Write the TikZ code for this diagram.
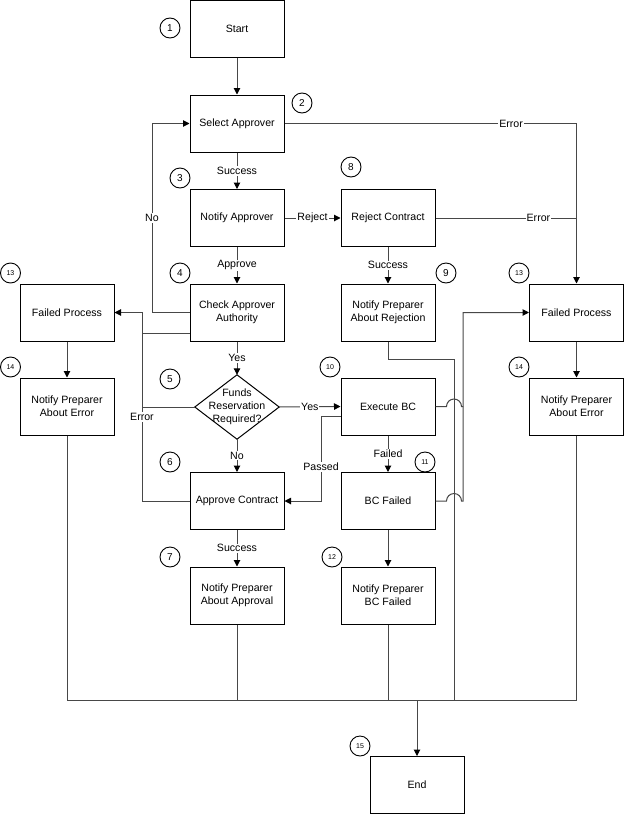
\documentclass[tikz,border=0pt]{standalone}
\usepackage{fontspec}
\setmainfont{Liberation Sans}
\usetikzlibrary{arrows.meta}
\begin{document}
\begin{tikzpicture}[x=1pt,y=-1pt,
 box/.style={draw=black, line width=1pt, minimum width=94pt, minimum height=57pt, align=center, font=\fontsize{10.6}{13}\selectfont, inner sep=0pt},
 num/.style={circle, draw=black, line width=0.9pt, minimum size=20pt, inner sep=0pt, font=\fontsize{10}{12}\selectfont},
 snum/.style={num, font=\fontsize{7}{8}\selectfont},
 conn/.style={draw=black!72, line width=1pt},
 arr/.style={conn, -{Triangle[length=6.5pt,width=6.5pt,color=black]}},
 lbl/.style={fill=white, inner sep=1pt, font=\fontsize{10.6}{12}\selectfont}
]
\useasboundingbox (0,0) rectangle (625,814);
% boxes
\node[box] (start) at (237,28.5) {Start};
\node[box] (sel) at (237,123.5) {Select Approver};
\node[box] (nap) at (237,218) {Notify Approver};
\node[box] (rej) at (388,218) {Reject Contract};
\node[box] (chk) at (237,312.5) {Check Approver\\Authority};
\node[box] (npr) at (388,312.5) {Notify Preparer\\About Rejection};
\node[box] (fpl) at (67,312.5) {Failed Process};
\node[box] (nel) at (67,406.5) {Notify Preparer\\About Error};
\node[minimum width=84pt, minimum height=64pt, inner sep=0pt, align=center, font=\fontsize{10.6}{13}\selectfont] (dia) at (237,407) {Funds\\Reservation\\Required?};
\draw[black, line width=1pt] (dia.west) -- (dia.north) -- (dia.east) -- (dia.south) -- cycle;
\node[box] (exe) at (388,406.5) {Execute BC};
\node[box] (apc) at (237,501) {Approve Contract};
\node[box] (bcf) at (388,501) {BC Failed};
\node[box] (fpr) at (576.5,312.5) {Failed Process};
\node[box] (ner) at (576.5,406.5) {Notify Preparer\\About Error};
\node[box] (npa) at (237,595.5) {Notify Preparer\\About Approval};
\node[box] (nbc) at (388,595.5) {Notify Preparer\\BC Failed};
\node[box] (end) at (417,785) {End};
% number circles
\node[num] (n1) at (170,28) {1};
\node[num] (n2) at (302,103) {2};
\node[num] (n3) at (180,178) {3};
\node[num] (n8) at (351,167) {8};
\node[num] (n4) at (180,273) {4};
\node[num] (n9) at (446,273) {9};
\node[snum] (n13a) at (10.5,273) {13};
\node[snum] (n14a) at (10.5,367) {14};
\node[num] (n5) at (170,379) {5};
\node[num] (n6) at (170,462) {6};
\node[snum] (n10) at (330,367) {10};
\node[snum] (n11) at (425,462) {11};
\node[snum] (n13b) at (519,273) {13};
\node[snum] (n14b) at (519,367) {14};
\node[num] (n7) at (170,557) {7};
\node[snum] (n12) at (332,557) {12};
\node[snum] (n15) at (360,746) {15};
% helper coordinates
\coordinate (noX) at (152,0);
\coordinate (ex) at (142,0);
\coordinate (px) at (321,0);
\coordinate (rx) at (454,0);
\coordinate (hx) at (463,0);
\coordinate (bus) at (0,700);
\coordinate (chkE) at ([yshift=-20.5pt]chk.west);
\coordinate (exP) at ([yshift=-10pt]exe.west);
% connectors
\draw[arr] (start) -- (sel);
\draw[arr] (sel) -- node[lbl]{Success} (nap);
\draw[arr] (sel.east) -- node[lbl,pos=0.776]{Error} (sel.east -| fpr.north) -- (fpr.north);
\draw[conn] (rej.east) -- node[lbl,pos=0.73]{Error} (rej.east -| fpr.north);
\draw[arr] (nap) -- node[lbl]{Reject} (rej);
\draw[arr] (nap) -- node[lbl]{Approve} (chk);
\draw[arr] (rej) -- node[lbl]{Success} (npr);
\draw[arr] (chk.west) -- (chk.west -| noX) -- node[lbl]{No} (sel.west -| noX) -- (sel.west);
\draw[conn] (chkE) -- (chkE -| ex);
\draw[conn] (dia.west) -- (dia.west -| ex);
\draw[arr] (apc.west) -- (apc.west -| ex) -- node[lbl,pos=0.446]{Error} (fpl.east -| ex) -- (fpl.east);
\draw[arr] (chk) -- node[lbl]{Yes} (dia.north);
\draw[arr] (dia.east) -- node[lbl]{Yes} (exe.west);
\draw[arr] (dia.south) -- node[lbl]{No} (apc);
\draw[arr] (exe) -- node[lbl]{Failed} (bcf);
\draw[arr] (exP) -- (exP -| px) -- node[lbl,pos=0.6]{Passed} (apc.east -| px) -- (apc.east);
\draw[arr] (bcf) -- (nbc);
\draw[arr] (fpl) -- (nel);
\draw[arr] (fpr) -- (ner);
\draw[arr] (apc) -- node[lbl]{Success} (npa);
\draw[conn] (npr.south) -- ++(0,18) -| (bus -| rx);
\draw[arr] (exe.east) -- ([xshift=-7.5pt]exe.east -| rx) arc[start angle=180,end angle=0,radius=7.5pt] -- (exe.east -| hx) -- (fpr.west -| hx) -- (fpr.west);
\draw[conn] (bcf.east) -- ([xshift=-7.5pt]bcf.east -| rx) arc[start angle=180,end angle=0,radius=7.5pt] -- (bcf.east -| hx) -- (exe.east -| hx);
\draw[conn] (nel.south) -- (nel.south |- bus) -- (ner.south |- bus) -- (ner.south);
\draw[conn] (npa.south) -- (npa.south |- bus);
\draw[conn] (nbc.south) -- (nbc.south |- bus);
\draw[arr] (end.north |- bus) -- (end.north);
\end{tikzpicture}
\end{document}
